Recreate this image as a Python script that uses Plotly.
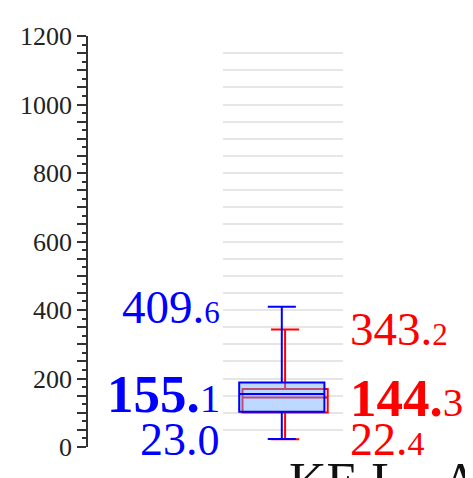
import plotly.graph_objects as go

# ---- data ----
group_names = ["Series A", "Series B"]
lower_fence = [23.0, 22.4]
q1_values = [103.0, 101.0]
median_values = [155.1, 144.3]
q3_values = [188.0, 169.0]
upper_fence = [409.6, 343.2]
y_tick_values = list(range(0, 1201, 200))
bottom_label = "KE L\u00a0\u00a0\u00a0A"

W, H = 473, 478
OFF = 8  # page body margin shift
TOP, BOT = 36 - OFF, 447 - OFF  # plot area top/bottom in figure px
colors = ["#0000ff", "#ff0000"]
fills = ["rgba(110,170,255,0.45)", "rgba(0,0,0,0)"]
positions = [0.0, 0.055]
yaxes = ["y2", "y"]  # blue on overlaying axis (drawn on top), red on base axis
SERIF = "Liberation Serif, serif"

fig = go.Figure()
for i in [1, 0]:
    fig.add_trace(go.Box(
        x=[positions[i]], q1=[q1_values[i]], median=[median_values[i]], q3=[q3_values[i]],
        lowerfence=[lower_fence[i]], upperfence=[upper_fence[i]],
        name=group_names[i], boxpoints=False, width=1.42, whiskerwidth=0.33,
        line=dict(color=colors[i], width=2), fillcolor=fills[i],
        xaxis="x", yaxis=yaxes[i], showlegend=False,
    ))

def fmt(v, big, small, bold=False):
    s = f"{v:.1f}"
    ip, dp = s.split(".")
    main = f"{ip}."
    if bold:
        main = f"<b>{main}</b>"
    return (f"<span style='font-size:{big}px'>{main}</span>"
            f"<span style='font-size:{small}px'>{dp}</span>")

anns = []
for i in range(2):
    side_x = 0 if i == 0 else 1
    anchor = "right" if i == 0 else "left"
    shift = -1 if i == 0 else 5
    for v, big, small, bold in [(upper_fence[i], 47, 31, False),
                                (median_values[i], 53, 41, True),
                                (lower_fence[i], 46, 44 if i == 0 else 34, False)]:
        anns.append(dict(
            x=side_x, xref="x domain", y=v, yref="y",
            text=fmt(v, big, small, bold), showarrow=False,
            xanchor=anchor, yanchor="middle", xshift=shift,
            font=dict(family=SERIF, color=colors[i], size=big),
        ))

anns.append(dict(
    x=(287 - OFF) / W, xref="paper", y=(BOT - 443) / (BOT - TOP), yref="paper",
    text=bottom_label, showarrow=False, xanchor="left", yanchor="top",
    font=dict(family=SERIF, color="#111111", size=52),
))

grid_vals = list(range(50, 1200, 50))
all_tick_vals = list(range(0, 1201, 50))
all_tick_text = [str(v) if v in y_tick_values else "" for v in all_tick_vals]

fig.update_layout(
    width=W, height=H,
    margin=dict(l=0, r=0, t=TOP, b=H - BOT),
    paper_bgcolor="white", plot_bgcolor="white",
    showlegend=False,
    boxmode="overlay",
    annotations=anns,
    xaxis=dict(domain=[(223 - OFF) / W, (343 - OFF) / W], range=[-0.98, 1.02], visible=False,
               showgrid=False, zeroline=False),
    yaxis=dict(range=[0, 1200], anchor="x",
               tickmode="array", tickvals=grid_vals, showticklabels=False,
               ticks="", showline=False, zeroline=False,
               showgrid=True, gridcolor="#e6e6e6", gridwidth=1.5),
    yaxis2=dict(range=[0, 1200], overlaying="y", anchor="free", position=(87 - OFF) / W,
                side="left", showgrid=False, zeroline=False,
                showline=True, linecolor="#333333", linewidth=1.5,
                tickmode="array", tickvals=all_tick_vals, ticktext=all_tick_text,
                ticks="outside", ticklen=9, tickwidth=1.5, tickcolor="#333333",
                tickfont=dict(family=SERIF, size=26, color="#222222"),
                minor=dict(dtick=25, tick0=0, ticks="outside", ticklen=4,
                           tickwidth=1.5, tickcolor="#333333", showgrid=False)),
)

fig.write_html("out.html")
